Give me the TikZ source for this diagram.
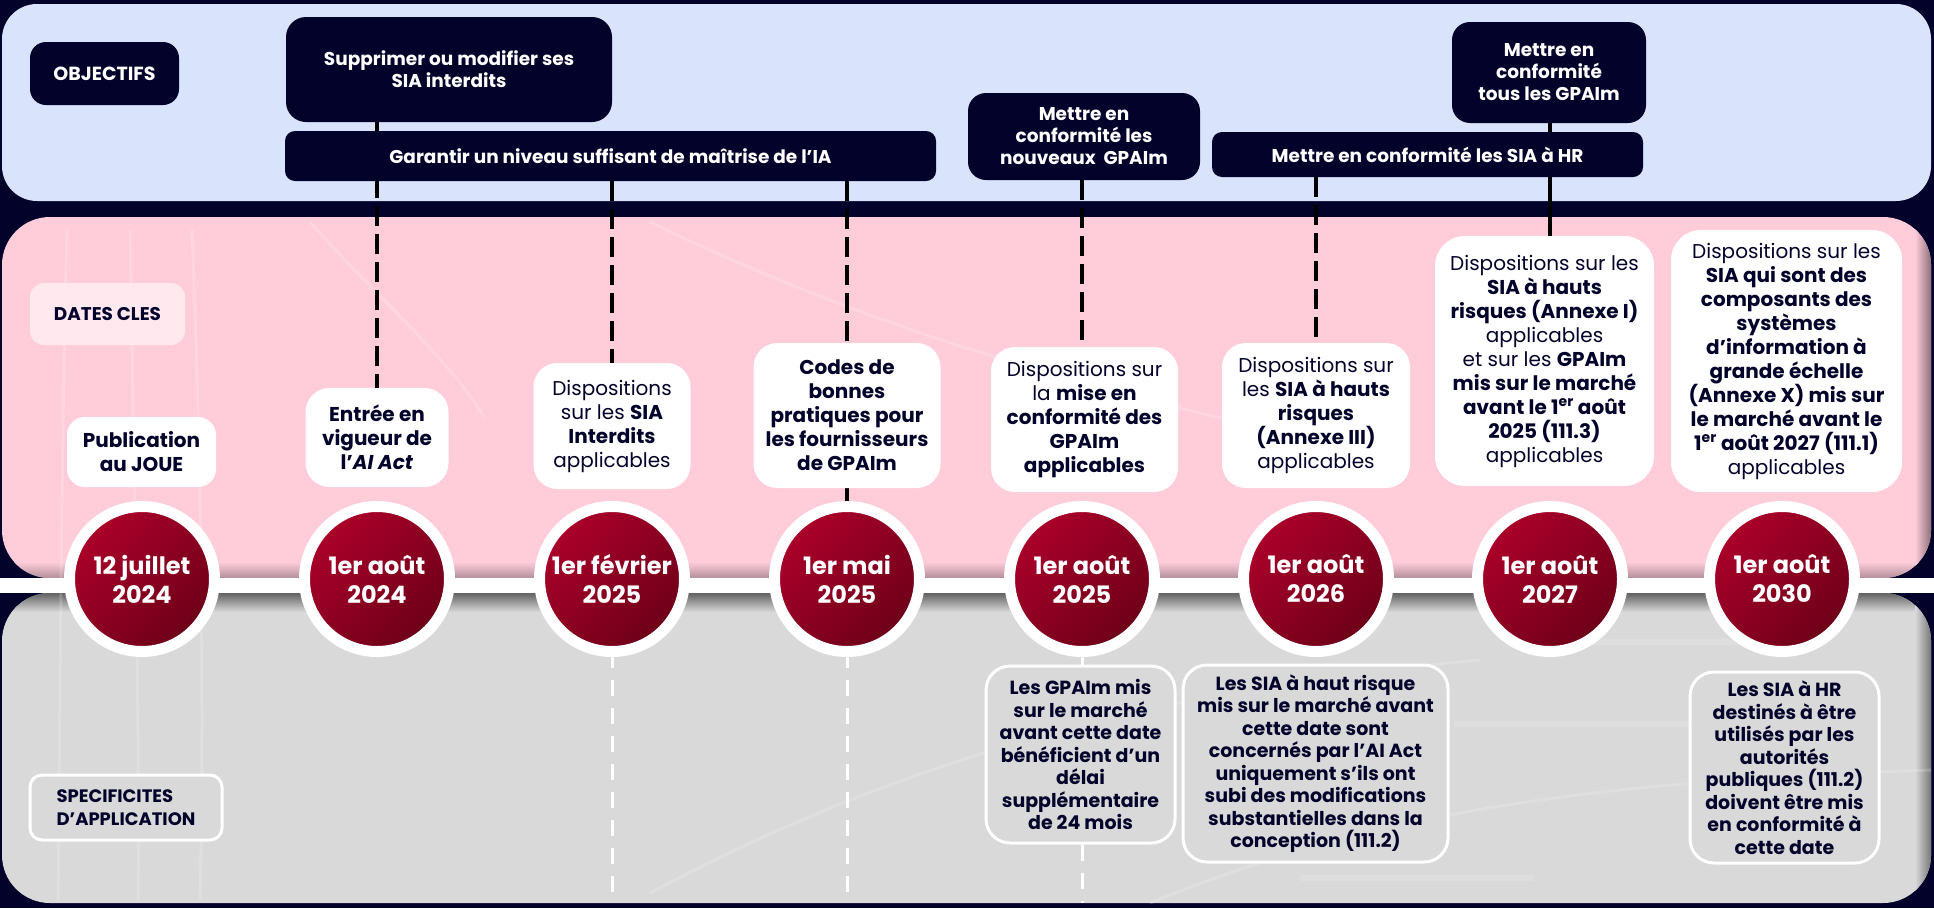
\documentclass[tikz,border=0pt]{standalone}
\usepackage{fontspec}
\setmainfont{Poppins}
\usetikzlibrary{calc}
\pgfdeclarelayer{bg}
\pgfdeclarelayer{lines}
\pgfsetlayers{bg,lines,main}
\definecolor{navy}{RGB}{3,2,42}
\definecolor{lightblue}{RGB}{217,228,252}
\definecolor{pinkbg}{RGB}{255,204,218}
\definecolor{graybg}{RGB}{217,217,217}
\definecolor{redA}{RGB}{172,0,42}
\definecolor{redB}{RGB}{108,0,24}
\definecolor{datesbg}{RGB}{255,232,238}
\tikzset{
  objbox/.style={fill=navy, rounded corners=16, text=white, font=\fontsize{18.5}{22}\selectfont\bfseries, align=center, inner sep=0pt},
  pinkbox/.style={fill=white, rounded corners=24, text=navy, font=\fontsize{20}{24}\selectfont, align=center, inner sep=0pt},
  graybox/.style={fill=graybg, draw=white, line width=3, rounded corners=24, text=navy, font=\fontsize{19}{22.5}\selectfont\bfseries, align=center, inner sep=0pt},
  datec/.style={circle, minimum size=145, inner sep=0pt, draw=white, line width=11, top color=redA, bottom color=redB, shading angle=45, text=white, font=\fontsize{24}{29}\selectfont\bfseries, align=center},
  blackdash/.style={draw=black, line width=3.5, dash pattern=on 20 off 8},
  whitedash/.style={draw=white, line width=3, dash pattern=on 16 off 12},
  faint/.style={draw=white, opacity=0.18, line width=3}
}
\begin{document}
\begin{tikzpicture}[x=1pt,y=-1pt]
\begin{pgfonlayer}{bg}
% background
\fill[navy] (0,0) rectangle (1934,908);
% panels
\fill[lightblue, rounded corners=35] (2,4) rectangle (1931,201);
\fill[pinkbg, rounded corners=48] (2,217) rectangle (1931,578);
\fill[graybg, rounded corners=48] (2,593) rectangle (1931,903);
% shadows
\begin{scope}
  \clip[rounded corners=48] (2,217) rectangle (1931,578);
  \shade[top color=pinkbg, bottom color=pinkbg!70!black] (0,562) rectangle (1934,578);
  \shade[left color=pinkbg, right color=pinkbg!55!black] (1915,217) rectangle (1931,578);
\end{scope}
\begin{scope}
  \clip[rounded corners=48] (2,593) rectangle (1931,903);
  \shade[top color=graybg!45!black, bottom color=graybg] (0,593) rectangle (1934,612);
  \shade[left color=graybg, right color=graybg!55!black] (1915,593) rectangle (1931,903);
\end{scope}
% faint decorative curves
\draw[faint] (67,230) .. controls (62,400) and (60,700) .. (58,900);
\draw[faint] (130,230) .. controls (133,420) and (140,700) .. (138,900);
\draw[faint] (192,230) .. controls (200,420) and (205,700) .. (200,900);
\draw[faint] (310,222) .. controls (380,300) and (450,360) .. (484,417);
\draw[faint] (650,222) .. controls (850,320) and (1100,400) .. (1400,455);
\draw[faint] (650,893) .. controls (900,760) and (1150,690) .. (1480,660);
\draw[faint] (1150,903) .. controls (1400,800) and (1650,780) .. (1931,770);
\draw[white, opacity=0.15, line width=6] (1510,642) -- (1761,642);
\draw[white, opacity=0.15, line width=6] (1454,724) -- (1761,724);
\draw[white, opacity=0.15, line width=6] (1300,878) -- (1533,878);
\end{pgfonlayer}
\useasboundingbox (0,0) rectangle (1934,908);
% coordinate for bottom of gray panel
\coordinate (gbot) at (0,903);
% date circle positions
\path (142,579) node[circle, minimum size=145, inner sep=0pt] (c1) {};
\path (377,579) node[circle, minimum size=145, inner sep=0pt] (c2) {};
\path (612,579) node[circle, minimum size=145, inner sep=0pt] (c3) {};
\path (847,579) node[circle, minimum size=145, inner sep=0pt] (c4) {};
\path (1082,579) node[circle, minimum size=145, inner sep=0pt] (c5) {};
\path (1316,579) node[circle, minimum size=145, inner sep=0pt] (c6) {};
\path (1550,579) node[circle, minimum size=145, inner sep=0pt] (c7) {};
\path (1782,579) node[circle, minimum size=145, inner sep=0pt] (c8) {};
% objective boxes
\node[objbox, minimum width=149, minimum height=63, font=\fontsize{19}{22}\selectfont\bfseries] (obj) at (104.5,73.5) {OBJECTIFS};
\node[objbox, minimum width=326, minimum height=105, rounded corners=20] (supp) at (449,69.5) {Supprimer ou modifier ses\\SIA interdits};
\node[objbox, minimum width=651, minimum height=50, rounded corners=10] (garantir) at (610.5,156) {Garantir un niveau suffisant de maîtrise de l’IA};
\node[objbox, minimum width=232, minimum height=87, rounded corners=18] (nouveaux) at (1084,136.5) {Mettre en\\conformité les\\nouveaux\ \ GPAIm};
\node[objbox, minimum width=431, minimum height=45, rounded corners=10] (siahr) at (1427.5,154.5) {Mettre en conformité les SIA à HR};
\node[objbox, minimum width=194, minimum height=101, rounded corners=18] (tous) at (1549,72.5) {Mettre en\\conformité\\tous les GPAIm};
% pink panel boxes
\node[fill=datesbg, rounded corners=14, minimum width=155, minimum height=62, inner sep=0pt, text=navy, font=\fontsize{18.4}{21}\selectfont\bfseries] (dates) at (107.5,314) {DATES CLES};
\node[pinkbox, minimum width=149, minimum height=70, rounded corners=18] (pub) at (141.5,452) {\textbf{Publication}\\\textbf{au JOUE}};
\node[pinkbox, minimum width=143, minimum height=99] (entree) at (377,437.5) {\textbf{Entrée en}\\\textbf{vigueur de}\\\textbf{l’\textit{AI Act}}};
\node[pinkbox, minimum width=157, minimum height=126] (disp1) at (612,426) {Dispositions\\sur les \textbf{SIA}\\\textbf{Interdits}\\applicables};
\node[pinkbox, minimum width=187, minimum height=145] (codes) at (847,415.5) {\textbf{Codes de}\\\textbf{bonnes}\\\textbf{pratiques pour}\\\textbf{les fournisseurs}\\\textbf{de GPAIm}};
\node[pinkbox, minimum width=187, minimum height=145] (disp2) at (1084.5,419.5) {Dispositions sur\\la \textbf{mise en}\\\textbf{conformité des}\\\textbf{GPAIm}\\\textbf{applicables}};
\node[pinkbox, minimum width=188, minimum height=145] (disp3) at (1316,415.5) {Dispositions sur\\les \textbf{SIA à hauts}\\\textbf{risques}\\\textbf{(Annexe III)}\\applicables};
\node[pinkbox, minimum width=219, minimum height=250, rounded corners=30] (disp4) at (1544.5,361) {Dispositions sur les\\\textbf{SIA à hauts}\\\textbf{risques (Annexe I)}\\applicables\\et sur les \textbf{GPAIm}\\\textbf{mis sur le marché}\\\textbf{avant le 1\textsuperscript{er} août}\\\textbf{2025 (111.3)}\\applicables};
\node[pinkbox, minimum width=231, minimum height=262, rounded corners=30] (disp5) at (1786.5,361) {Dispositions sur les\\\textbf{SIA qui sont des}\\\textbf{composants des}\\\textbf{systèmes}\\\textbf{d’information à}\\\textbf{grande échelle}\\\textbf{(Annexe X) mis sur}\\\textbf{le marché avant le}\\\textbf{1\textsuperscript{er} août 2027 (111.1)}\\applicables};
% gray panel boxes
\node[graybox, minimum width=192, minimum height=65, rounded corners=12, align=left, font=\fontsize{18}{23}\selectfont\bfseries] (spec) at (126,807.5) {SPECIFICITES\\D’APPLICATION};
\node[graybox, minimum width=189, minimum height=177] (gray1) at (1080.5,754.5) {Les GPAIm mis\\sur le marché\\avant cette date\\bénéficient d’un\\délai\\supplémentaire\\de 24 mois};
\node[graybox, minimum width=265, minimum height=197] (gray2) at (1315.5,763.5) {Les SIA à haut risque\\mis sur le marché avant\\cette date sont\\concernés par l’AI Act\\uniquement s’ils ont\\subi des modifications\\substantielles dans la\\conception (111.2)};
\node[graybox, minimum width=189, minimum height=191] (gray3) at (1784.5,767.5) {Les SIA à HR\\destinés à être\\utilisés par les\\autorités\\publiques (111.2)\\doivent être mis\\en conformité à\\cette date};
% connectors (on layer behind boxes)
\begin{pgfonlayer}{lines}
\draw[blackdash] (supp.south -| c2) -- (entree.north -| c2);
\draw[blackdash] (garantir.south -| c3) -- (disp1.north -| c3);
\draw[blackdash] (garantir.south -| c4) -- (codes.north -| c4);
\draw[blackdash] (codes.south -| c4) -- (c4.north);
\draw[blackdash] (nouveaux.south -| c5) -- (disp2.north -| c5);
\draw[blackdash] (siahr.south -| c6) -- (disp3.north -| c6);
\draw[black, line width=3.5] (tous.south -| c7) -- (disp4.north -| c7);
\draw[whitedash] (c3.south) -- (c3 |- gbot);
\draw[whitedash] (c4.south) -- (c4 |- gbot);
\draw[white, line width=3] (c5.south) -- (gray1.north -| c5);
\draw[whitedash] (gray1.south -| c5) -- (c5 |- gbot);
\end{pgfonlayer}
% white timeline bar
\fill[white] (0,578) rectangle (1934,593);
% date circles drawn
\node[datec] at (c1) {12 juillet\\2024};
\node[datec] at (c2) {1er août\\2024};
\node[datec] at (c3) {1er février\\2025};
\node[datec] at (c4) {1er mai\\2025};
\node[datec] at (c5) {1er août\\2025};
\node[datec] at (c6) {1er août\\2026};
\node[datec] at (c7) {1er août\\2027};
\node[datec] at (c8) {1er août\\2030};
\end{tikzpicture}
\end{document}
